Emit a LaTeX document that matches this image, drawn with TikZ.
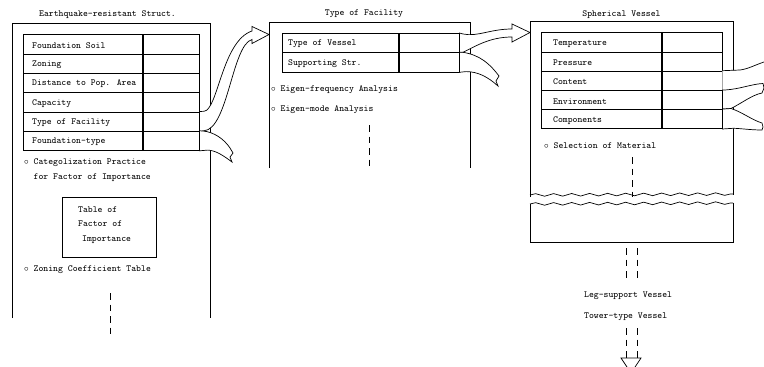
\documentclass[tikz,border=0pt]{standalone}
\usepackage{amsmath}
\usepackage{tikz}
\usetikzlibrary{positioning,decorations.pathmorphing}

\begin{document}
\begin{tikzpicture}[x=1pt, y=-1pt, font=\fontsize{9.3}{11}\selectfont\ttfamily]
    % Stili
    \tikzstyle{cell}=[rectangle, draw=black, line width=0.7pt, minimum height=19.3pt, inner sep=0pt, anchor=north west]
    \tikzstyle{entry}=[inner sep=0pt, anchor=west]
    \tikzstyle{heading}=[inner sep=0pt]
    \tikzstyle{panel}=[line width=0.7pt]
    \tikzstyle{ribbon}=[draw=black, fill=white, line width=0.7pt]
    \tikzstyle{trail}=[line width=0.7pt, dash pattern=on 6.5pt off 5pt]
    \tikzstyle{wave}=[line width=0.7pt, decorate, decoration={snake, amplitude=1.3pt, segment length=18pt}]

    \useasboundingbox (0,0) rectangle (764,367);

    % Titoli
    \node[heading] (t1) at (107.5,15) {Earthquake-resistant Struct.};
    \node[heading] (t2) at (364,14) {Type of Facility};
    \node[heading] (t3) at (621.5,15) {Spherical Vessel};

    % Pannelli
    \draw[panel] (12,318) -- (12,23) -- (210,23) -- (210,318);
    \draw[panel] (269,168) -- (269,22) -- (470,22) -- (470,168);
    \draw[panel] (530,197) -- (530,21) -- (733,21) -- (733,195);
    \draw[wave] (530,195) -- (733,194);
    \draw[wave] (530,204) -- (733,203);
    \draw[panel] (530,204) -- (530,242) -- (733,242) -- (733,203);

    % Tabelle
    \foreach \txt [count=\i] in {Foundation Soil, Zoning, Distance to Pop. Area, Capacity, Type of Facility, Foundation-type} {
        \node[cell, minimum width=119pt] (q\i) at (23,{34.3+(\i-1)*19.3}) {};
        \node[cell, minimum width=56pt, right=0pt of q\i] (qv\i) {};
        \node[entry] (qt\i) at ([xshift=9pt, yshift=-1pt]q\i.west) {\txt};
    }
    \foreach \txt [count=\i] in {Type of Vessel, Supporting Str.} {
        \node[cell, minimum width=116pt] (f\i) at (282,{33+(\i-1)*19.3}) {};
        \node[cell, minimum width=60pt, right=0pt of f\i] (fv\i) {};
        \node[entry] (ft\i) at ([xshift=6pt, yshift=-1pt]f\i.west) {\txt};
    }
    \foreach \txt [count=\i] in {Temperature, Pressure, Content, Environment, Components} {
        \node[cell, minimum width=120pt, minimum height=19.2pt] (s\i) at (541,{32.3+(\i-1)*19.2}) {};
        \node[cell, minimum width=60pt, minimum height=19.2pt, right=0pt of s\i] (sv\i) {};
        \node[entry] (st\i) at ([xshift=12pt, yshift=-1.5pt]s\i.west) {\txt};
    }

    % Note
    \node[entry] (n1) at (24,163) {$\circ$\ Categolization Practice};
    \node[entry] (n2) at (33.5,178) {for Factor of Importance};
    \node[draw, line width=0.7pt, minimum width=94pt, minimum height=60pt, inner sep=0pt] (imp) at (109,227) {};
    \node[entry] (imp1) at (78,210) {Table of};
    \node[entry] (imp2) at (78,224) {Factor of};
    \node[entry] (imp3) at (82,240) {Importance};
    \node[entry] (n3) at (24,270) {$\circ$\ Zoning Coefficient Table};
    \node[entry] (n4) at (271,90) {$\circ$\ Eigen-frequency Analysis};
    \node[entry] (n5) at (271,110) {$\circ$\ Eigen-mode Analysis};
    \node[entry] (n6) at (544,146) {$\circ$\ Selection of Material};
    \node[entry] (leg) at (584,296) {Leg-support Vessel};
    \node[entry] (tower) at (584,317) {Tower-type Vessel};

    % Tratteggi
    \draw[trail] (110,293) -- (110,336);
    \draw[trail] (369,125) -- (369,168);
    \draw[trail] (632,157) -- (632,197);
    \draw[trail] (626,248) -- (626,280);
    \draw[trail] (637,248) -- (637,280);
    \draw[trail] (626,328) -- (626,358);
    \draw[trail] (637,328) -- (637,358);
    \draw[panel] (627,367) -- (621,358) -- (641,358) -- (635,367);

    % Nastri
    \draw[ribbon] (qv5.north east) -- (204,111.3) .. controls (218,110) and (222,41) .. (252,31) -- (252,26.5) -- (269,34.5) -- (252,43.5) -- (252,39.5) .. controls (232,45) and (228,129) .. (204,130.8) -- (qv5.south east) -- cycle;
    \draw[ribbon] (qv6.north east) -- (203,131) .. controls (214,132) and (224,139) .. (230,148) -- (233,153) -- (230,157) -- (232,162) .. controls (224,156) and (216,150.5) .. (208,150.1) -- (qv6.south east) -- cycle;
    \draw[ribbon] (fv1.north east) -- (463,34) .. controls (478,37) and (490,29) .. (512,29) -- (512,24) -- (530,32.5) -- (512,42) -- (512,37) .. controls (490,37) and (476,46) .. (463,52.3) -- (fv1.south east) -- cycle;
    \draw[ribbon] (fv2.north east) -- (463,52.3) .. controls (480,55) and (490,64) .. (499,76) -- (496,81) -- (498,86) .. controls (488,77) and (478,71.6) .. (466,71.6) -- (fv2.south east) -- cycle;
    \fill[white] (sv3.north east) -- (740,70) .. controls (748,69) and (755,65) .. (764,62) -- (764,83.5) .. controls (752,84) and (740,89.9) .. (sv4.north east) -- cycle;
    \draw[panel] (sv3.north east) -- (740,70) .. controls (748,69) and (755,65) .. (764,62);
    \draw[ribbon] (sv4.north east) -- (726,89.9) .. controls (740,89) and (752,84) .. (763,83.5) -- (764,88) -- (762,93) .. controls (752,95) and (742,103) .. (731,108.5) -- (sv5.north east) -- cycle;
    \draw[ribbon] (sv5.north east) -- (731,108.5) .. controls (742,112) and (752,120) .. (762,123) -- (763,127) -- (762,130) .. controls (750,130) and (740,128.3) .. (733,128.3) -- (sv5.south east) -- cycle;
\end{tikzpicture}
\end{document}
